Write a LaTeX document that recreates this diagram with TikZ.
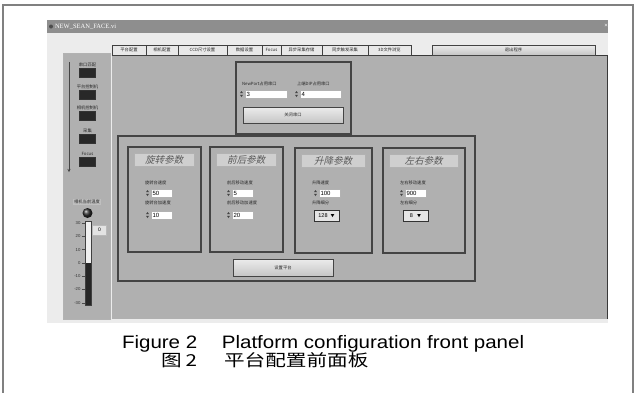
\documentclass[tikz,border=0pt]{standalone}
\usepackage{fontspec}
\setmainfont{Liberation Sans}
\newfontfamily\cjk{Noto Sans CJK SC}
\newfontfamily\cjkslant[FakeSlant=0.25]{Noto Sans CJK SC}
\newfontfamily\uiserif{Liberation Serif}
\usetikzlibrary{positioning, arrows.meta, calc}
\definecolor{panelgray}{RGB}{176,176,176}
\definecolor{winlight}{RGB}{236,236,236}
\definecolor{bargray}{RGB}{142,142,142}
\definecolor{edgegray}{RGB}{68,68,68}
\definecolor{ledblack}{RGB}{40,40,40}
\definecolor{figframe}{RGB}{128,128,128}

\begin{document}
\begin{tikzpicture}[x=1pt, y=-1pt,
    every node/.style={inner sep=0pt, outer sep=0pt},
    smalltext/.style={font=\cjk\fontsize{4.3}{5}\selectfont, text=black!85},
    groupbox/.style={rectangle, draw=edgegray, line width=1.4pt, anchor=north west},
    banner/.style={rectangle, fill=gray!38, draw=gray!60, anchor=north west, minimum height=13pt,
                   font=\cjkslant\fontsize{9.5}{10}\selectfont, text=gray!70!black},
    field/.style={rectangle, fill=white, draw=gray!60, anchor=north west, minimum height=8pt,
                  text width=#1, inner xsep=1.5pt, align=left, font=\fontsize{6}{6}\selectfont},
    field/.default=18pt,
    dropbox/.style={rectangle, fill=gray!20, draw=gray!40!black, anchor=north west,
                    minimum width=25pt, minimum height=11pt, font=\fontsize{5.5}{6}\selectfont},
    button/.style={rectangle, draw=edgegray, line width=0.8pt, top color=gray!15, bottom color=gray!45,
                   anchor=north west, smalltext},
    led/.style={rectangle, fill=ledblack, draw=gray!40!black, minimum width=16pt, minimum height=9pt},
    tab/.style={rectangle, draw=gray!50!black, fill=gray!18, anchor=north west, minimum height=10pt, smalltext}
]
    % figure frame and window
    \useasboundingbox (0,0) rectangle (635,392);
    \draw[figframe, line width=1.2pt] (3,400) -- (3,5) -- (633,5) -- (633,400);
    \fill[winlight] (47,20) rectangle (608,323);
    \fill[bargray] (47,20) rectangle (608,33);
    \node[circle, fill=black!70, minimum size=4pt] (vicon) at (51,26.5) {};
    \node[anchor=west, font=\uiserif\fontsize{6.5}{7}\selectfont, text=white] (vititle) at (55,26.5) {NEW\_SEAN\_FACE.vi};
    \node[font=\fontsize{6}{6}\selectfont, text=white] (viclose) at (606,26) {×};

    % panels
    \fill[panelgray] (63,53) rectangle (110,319);
    \draw[gray!60] (63,53) rectangle (110,319);
    \fill[panelgray] (112,55) rectangle (607,319);
    \draw[gray!45!black, line width=0.8pt] (112,55) -- (607,55) -- (607,319);

    % tabs
    \foreach \xa/\xb/\lab [count=\i] in {112/146/平台配置, 146/178/相机配置, 178/227/CCD尺寸设置, 227/262/数据设置,
                                         262/281/Focus, 281/322/异步采集存储, 322/368/同步触发采集, 368/411/3D文件浏览}
        \node[tab, minimum width={(\xb-\xa)*1pt}] (tab\i) at (\xa,45) {\lab};
    \node[button, minimum width=163pt, minimum height=10pt] (quitbtn) at (432,45) {退出程序};

    % sidebar
    \coordinate (flowtop) at (69,62);
    \coordinate (flowend) at (69,172);
    \draw[edgegray, line width=0.8pt, -{Stealth[length=3pt,width=3pt]}] (flowtop) -- (flowend);
    \foreach \y/\lab [count=\i] in {72.5/串口匹配, 94.5/平台控制机, 116/相机控制机, 138.5/采集, 162/Focus} {
        \node[led] (led\i) at (87.5,\y) {};
        \node[smalltext, above=1.5pt of led\i] (ledlbl\i) {\lab};
    }

    % temperature
    \node[smalltext, fill=gray!50, inner sep=0.8pt] (templbl) at (87,202) {相机当前温度};
    \node[circle, shading=ball, ball color=gray!35!black, minimum size=10pt] (tempknob) at (87.5,213) {};
    \node[rectangle, draw=gray!50!black, fill=gray!12, minimum width=6pt, minimum height=84pt, anchor=north] (temptube) at (88.5,221) {};
    \fill[gray!30!black] (86,263) rectangle (91,304.5);
    \foreach \v [count=\i from 0] in {30,20,10,0,-10,-20,-30} {
        \node[anchor=east, font=\fontsize{4.3}{5}\selectfont, text=black!80] (tick\i) at (80.5,{223+\i*13.3}) {\v};
        \draw[black!70, line width=0.4pt] (81.5,{223+\i*13.3}) -- (85,{223+\i*13.3});
    }
    \node[rectangle, fill=gray!22, draw=gray!55, anchor=north west, minimum width=14pt, minimum height=10pt,
          font=\fontsize{5}{5}\selectfont] (tempval) at (92.5,225) {0};

    % serial ports
    \node[groupbox, minimum width=115pt, minimum height=72pt] (serialbox) at (236,62) {};
    \node[smalltext, anchor=west] (npl) at (242,84) {NewPort占用串口};
    \node[smalltext, anchor=west] (dipl) at (297,84) {上端DIP占用串口};
    \node[field=39pt] (npf) at (245,90) {3};
    \node[field=38pt] (dipf) at (300,90) {4};
    \node[button, minimum width=100pt, minimum height=16pt] (serialbtn) at (243,107) {关闭串口};

    % platform parameters
    \node[groupbox, minimum width=357pt, minimum height=145pt] (platbox) at (118,136) {};
    \foreach \bname/\bx/\by/\bw/\btitle in {rotbox/128/147/73/旋转参数, fbbox/210/147/73/前后参数,
                                            udbox/295/148/77/升降参数, lrbox/383/148/82/左右参数} {
        \node[groupbox, minimum width={\bw*1pt}, minimum height=105pt] (\bname) at (\bx,\by) {};
        \node[banner, minimum width={(\bw-13)*1pt}] (\bname-title) at ($(\bname.north west)+(6,6)$) {\btitle};
    }
    \node[smalltext, anchor=west] (rotl1) at ($(rotbox.north west)+(17,36)$) {旋转台速度};
    \node[field] (rotf1) at ($(rotbox.north west)+(23,42)$) {50};
    \node[smalltext, anchor=west] (rotl2) at ($(rotbox.north west)+(17,56)$) {旋转台加速度};
    \node[field] (rotf2) at ($(rotbox.north west)+(23,64)$) {10};

    \node[smalltext, anchor=west] (fbl1) at ($(fbbox.north west)+(17,36)$) {前后移动速度};
    \node[field] (fbf1) at ($(fbbox.north west)+(22,42)$) {5};
    \node[smalltext, anchor=west] (fbl2) at ($(fbbox.north west)+(17,56)$) {前后移动加速度};
    \node[field] (fbf2) at ($(fbbox.north west)+(22,64)$) {20};

    \node[smalltext, anchor=west] (udl1) at ($(udbox.north west)+(17,35)$) {升降速度};
    \node[field] (udf1) at ($(udbox.north west)+(24,41)$) {100};
    \node[smalltext, anchor=west] (udl2) at ($(udbox.north west)+(17,55)$) {升降细分};
    \node[dropbox] (udd) at ($(udbox.north west)+(19,62)$) {128\hspace{3pt}{\cjk\fontsize{4}{4}\selectfont ▼}};

    \node[smalltext, anchor=west] (lrl1) at ($(lrbox.north west)+(17,35)$) {左右移动速度};
    \node[field] (lrf1) at ($(lrbox.north west)+(22,41)$) {900};
    \node[smalltext, anchor=west] (lrl2) at ($(lrbox.north west)+(17,55)$) {左右细分};
    \node[dropbox] (lrd) at ($(lrbox.north west)+(20,62)$) {8\hspace{4pt}{\cjk\fontsize{4}{4}\selectfont ▼}};

    \foreach \f in {npf,dipf,rotf1,rotf2,fbf1,fbf2,udf1,lrf1} {
        \fill[edgegray] ([xshift=-5pt,yshift=0.8pt]\f.west) -- ++(3pt,0pt) -- ++(-1.5pt,2.2pt) -- cycle;
        \fill[edgegray] ([xshift=-5pt,yshift=-0.8pt]\f.west) -- ++(3pt,0pt) -- ++(-1.5pt,-2.2pt) -- cycle;
    }
    \node[button, minimum width=100pt, minimum height=17pt] (setbtn) at (233,259) {设置平台};

    % caption
    \node[anchor=base west, xscale=1.14, font=\fontsize{18}{20}\selectfont] (capen) at (122,348) {Figure 2\hspace{1.2em}Platform configuration front panel};
    \node[anchor=base west, xscale=1.25, font=\cjk\fontsize{16.5}{18}\selectfont] (capzh) at (161,366) {图\hspace{0.2em}2\hspace{1.3em}平台配置前面板};
\end{tikzpicture}
\end{document}
